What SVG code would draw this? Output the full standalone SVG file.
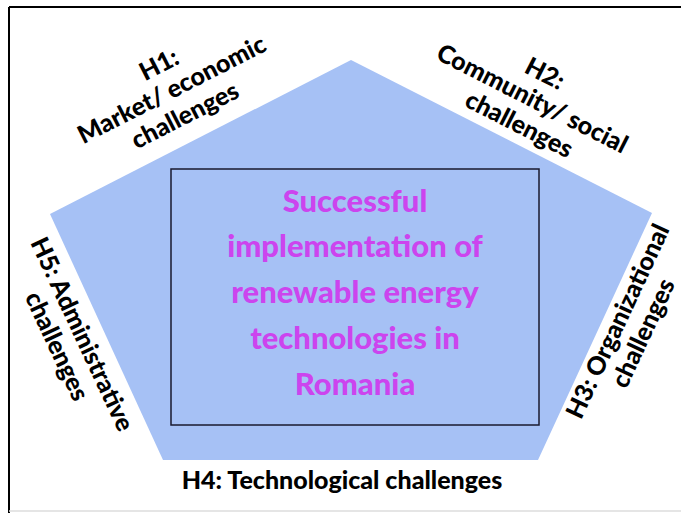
<svg xmlns="http://www.w3.org/2000/svg" width="681" height="513" viewBox="0 0 681 513">
<style>
.lbl{font-family:Lato,"Open Sans","Liberation Sans",sans-serif;font-weight:900;font-size:25px;fill:#000;text-anchor:middle}
.ctr{font-family:Lato,"Open Sans","Liberation Sans",sans-serif;font-weight:900;font-size:31px;fill:#CC44EE;text-anchor:middle}
</style>
<rect x="0" y="0" width="681" height="513" fill="#fff"/>
<g id="frame">
<line x1="9" y1="7" x2="681" y2="7" stroke="#000" stroke-width="2"/>
<line x1="9" y1="7" x2="9" y2="513" stroke="#000" stroke-width="2"/>
<line x1="9" y1="511" x2="681" y2="511" stroke="#ddd" stroke-width="1.5"/>
</g>
<g id="pentagon">
<polygon points="351,60 652,213 538,460 163,460 50,214" fill="#A6C1F5"/>
</g>
<g id="center">
<rect x="171" y="169" width="368" height="256" fill="none" stroke="#1a1a2e" stroke-width="1.5"/>
<text class="ctr" x="355" y="212">Successful</text>
<text class="ctr" x="355" y="257">implementation of</text>
<text class="ctr" x="355" y="303">renewable energy</text>
<text class="ctr" x="355" y="349">technologies in</text>
<text class="ctr" x="355" y="395">Romania</text>
</g>
<g id="h1" transform="translate(172,90) rotate(-27)">
<text class="lbl" x="0" y="-20">H1:</text>
<text class="lbl" x="0" y="8">Market/ economic</text>
<text class="lbl" x="0" y="37">challenges</text>
</g>
<g id="h2" transform="translate(532,99) rotate(27)">
<text class="lbl" x="0" y="-20">H2:</text>
<text class="lbl" x="0" y="8">Community/ social</text>
<text class="lbl" x="0" y="37">challenges</text>
</g>
<g id="h3" transform="translate(630,327) rotate(-65)">
<text class="lbl" x="0" y="-5">H3: Organizational</text>
<text class="lbl" x="0" y="23">challenges</text>
</g>
<g id="h5" transform="translate(70,340) rotate(65)">
<text class="lbl" x="0" y="-5">H5: Administrative</text>
<text class="lbl" x="0" y="23">challenges</text>
</g>
<g id="h4">
<text class="lbl" x="342" y="489" font-size="24">H4: Technological  challenges</text>
</g>
</svg>
